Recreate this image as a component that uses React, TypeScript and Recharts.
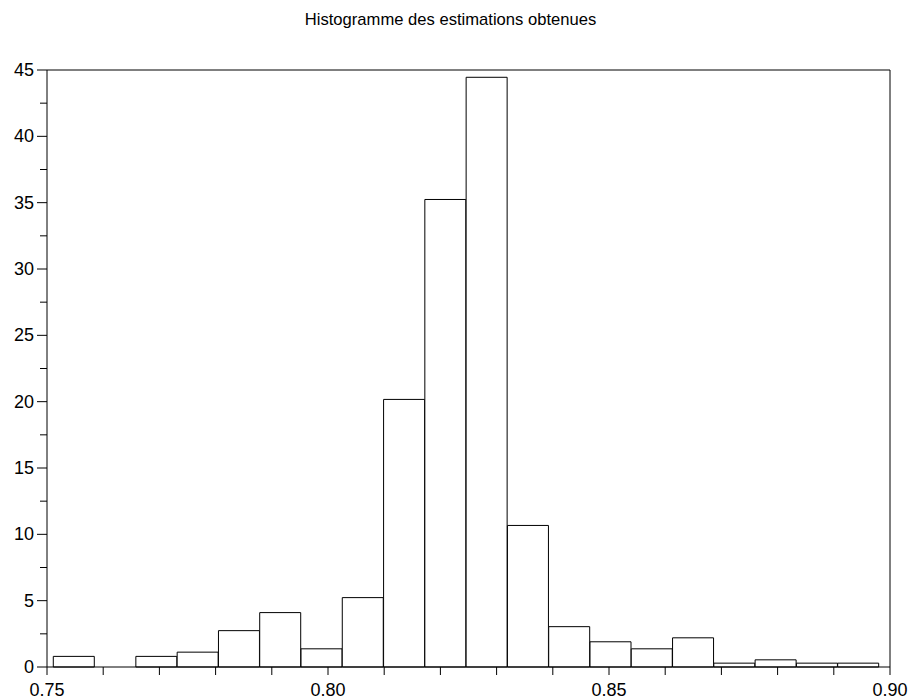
import React from 'react';
import { BarChart, Bar, XAxis, YAxis, ReferenceLine } from 'recharts';

// bin centres (histogram of the estimates) and their density values
const binCenters = [
  0.75479, 0.76214, 0.76948, 0.77683, 0.78418, 0.79152, 0.79887, 0.80621, 0.81356, 0.8209,
  0.82825, 0.8356, 0.84294, 0.85029, 0.85763, 0.86498, 0.87232, 0.87967, 0.88702, 0.89436,
];
const densities = [
  0.8, 0, 0.8, 1.12, 2.74, 4.1, 1.37, 5.23, 20.17, 35.24,
  44.45, 10.67, 3.04, 1.9, 1.37, 2.2, 0.29, 0.54, 0.29, 0.29,
];

const xTicks = [
  0.75, 0.76, 0.77, 0.78, 0.79, 0.8, 0.81, 0.82, 0.83, 0.84, 0.85, 0.86, 0.87, 0.88, 0.89, 0.9,
];
const xLabels = [0.75, 0.8, 0.85, 0.9];
const yTicks = [0, 2.5, 5, 7.5, 10, 12.5, 15, 17.5, 20, 22.5, 25, 27.5, 30, 32.5, 35, 37.5, 40, 42.5, 45];

const data = binCenters.map((x, i) => ({ x, density: densities[i] }));

const font = '"Liberation Sans", Arial, sans-serif';

const YTick = (props: any) => {
  const { x, y, payload } = props;
  const major = payload.value % 5 === 0;
  return (
    <g>
      <line x1={x - (major ? 10 : 7)} x2={x} y1={y} y2={y} stroke="#000" strokeWidth={1} />
      {major && (
        <text x={x - 13} y={y} textAnchor="end" dominantBaseline="central" fontSize={18} fontFamily={font} fill="#000">
          {payload.value}
        </text>
      )}
    </g>
  );
};

const App: React.FC = () => {
  return (
    <div style={{ position: 'fixed', left: 0, top: 0, width: 909, height: 700, background: '#fff' }}>
      <div
        style={{
          position: 'absolute',
          top: 10,
          left: 0,
          width: 901,
          textAlign: 'center',
          fontFamily: font,
          fontSize: 16.6,
          color: '#000',
        }}
      >
        Histogramme des estimations obtenues
      </div>
      <BarChart
        width={909}
        height={700}
        data={data}
        margin={{ top: 70, right: 19, bottom: 0, left: 0 }}
        barCategoryGap={0}
        barGap={0}
      >
        <XAxis
          dataKey="x"
          type="number"
          domain={[0.75, 0.9]}
          ticks={xTicks}
          interval={0}
          height={33}
          tickSize={8}
          tickMargin={8}
          stroke="#000"
          tickLine={{ stroke: '#000' }}
          tick={{ fontSize: 18, fontFamily: font, fill: '#000' }}
          tickFormatter={(v: number) => (xLabels.some((l) => Math.abs(l - v) < 1e-6) ? v.toFixed(2) : '')}
        />
        <YAxis
          type="number"
          domain={[0, 45]}
          ticks={yTicks}
          interval={0}
          width={47}
          tickSize={0}
          tickMargin={0}
          tickLine={false}
          stroke="#000"
          tick={<YTick />}
        />
        <ReferenceLine y={45} stroke="#000" ifOverflow="visible" />
        <ReferenceLine x={0.9} stroke="#000" ifOverflow="visible" />
        <Bar dataKey="density" fill="#fff" stroke="#000" strokeWidth={1} isAnimationActive={false} />
      </BarChart>
    </div>
  );
};

export default App;
